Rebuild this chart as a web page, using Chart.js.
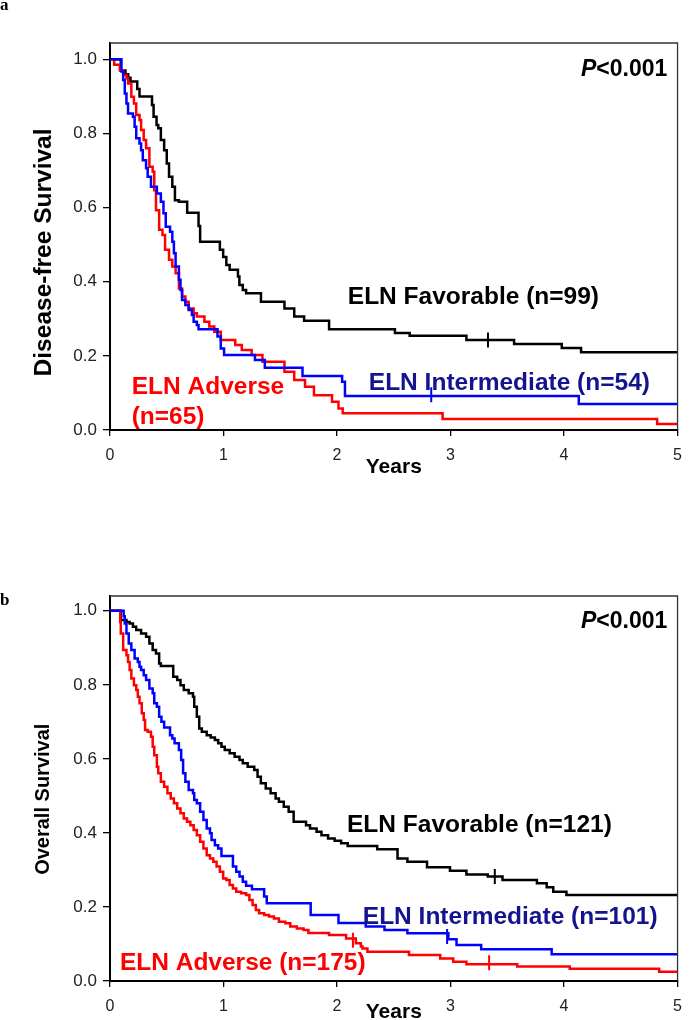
<!DOCTYPE html>
<html lang="en">
<head>
    <meta charset="UTF-8">
    <title>ELN risk groups - survival</title>
    <!-- Chart.js -->
    <script src="https://cdn.jsdelivr.net/npm/chart.js@4.4.0/dist/chart.umd.min.js"></script>
    <style>
        html, body {
            margin: 0;
            padding: 0;
            background: #fff;
            overflow: hidden;
        }
        body {
            position: relative;
            width: 692px;
            height: 1020px;
        }
        canvas {
            position: absolute;
            left: 0;
        }
        #dfsChart { top: 0; }
        #osChart { top: 490px; }
    </style>
</head>
<body>
    <canvas id="dfsChart" width="692" height="490"></canvas>
    <canvas id="osChart" width="692" height="540"></canvas>

    <script>
        // ---- axis ticks ----
        const xTicks = [0, 1, 2, 3, 4, 5];
        const yTicks = [0, 0.2, 0.4, 0.6, 0.8, 1.0];

        // ---- panel a: disease-free survival (years, survival) ----
        const dfsFavT = [0, 0.095, 0.136, 0.16, 0.18, 0.24, 0.26, 0.37, 0.384, 0.41, 0.425, 0.448, 0.477, 0.5, 0.52, 0.549, 0.572, 0.607, 0.68, 0.78, 0.794, 0.968, 0.997, 1.025, 1.054, 1.127, 1.14, 1.17, 1.199, 1.33, 1.537, 1.623, 1.71, 1.93, 2.51, 2.64, 3.14, 3.56, 3.98, 4.15, 5];
        const dfsFavS = [1, 0.97, 0.96, 0.95, 0.94, 0.92, 0.90, 0.877, 0.845, 0.823, 0.814, 0.782, 0.755, 0.719, 0.683, 0.656, 0.62, 0.616, 0.586, 0.55, 0.508, 0.486, 0.467, 0.445, 0.432, 0.414, 0.391, 0.378, 0.369, 0.346, 0.328, 0.306, 0.295, 0.272, 0.262, 0.254, 0.243, 0.232, 0.221, 0.21, 0.21];

        const dfsIntT = [0, 0.101, 0.116, 0.13, 0.145, 0.159, 0.202, 0.217, 0.231, 0.26, 0.274, 0.289, 0.318, 0.332, 0.361, 0.413, 0.448, 0.471, 0.491, 0.529, 0.549, 0.563, 0.578, 0.607, 0.621, 0.635, 0.664, 0.693, 0.722, 0.737, 0.765, 0.78, 0.947, 0.976, 1.005, 1.277, 1.364, 1.696, 2.045, 2.07, 4.13, 5];
        const dfsIntS = [1, 0.967, 0.944, 0.908, 0.881, 0.854, 0.845, 0.818, 0.787, 0.773, 0.755, 0.728, 0.706, 0.683, 0.656, 0.638, 0.616, 0.585, 0.548, 0.535, 0.508, 0.477, 0.441, 0.405, 0.378, 0.351, 0.337, 0.324, 0.31, 0.292, 0.283, 0.272, 0.252, 0.22, 0.202, 0.189, 0.168, 0.146, 0.13, 0.092, 0.07, 0.07];

        const dfsAdvT = [0, 0.037, 0.087, 0.116, 0.145, 0.159, 0.188, 0.211, 0.231, 0.26, 0.274, 0.297, 0.318, 0.347, 0.376, 0.39, 0.405, 0.433, 0.462, 0.485, 0.52, 0.549, 0.578, 0.607, 0.635, 0.664, 0.693, 0.737, 0.765, 0.832, 0.875, 0.919, 0.976, 1.103, 1.161, 1.248, 1.343, 1.537, 1.623, 1.718, 1.797, 1.956, 2.013, 2.05, 2.93, 4.82, 5];
        const dfsAdvS = [1, 0.985, 0.97, 0.958, 0.949, 0.935, 0.899, 0.881, 0.85, 0.836, 0.809, 0.782, 0.76, 0.71, 0.697, 0.647, 0.593, 0.54, 0.526, 0.486, 0.459, 0.441, 0.423, 0.382, 0.36, 0.346, 0.328, 0.315, 0.306, 0.292, 0.279, 0.265, 0.243, 0.229, 0.216, 0.202, 0.184, 0.157, 0.135, 0.117, 0.094, 0.076, 0.058, 0.045, 0.03, 0.016, 0.016];

        // censored observations
        const dfsFavCensT = [3.33];
        const dfsFavCensS = [0.243];
        const dfsIntCensT = [2.83];
        const dfsIntCensS = [0.095];

        // ---- panel b: overall survival (years, survival) ----
        const osFavT = [0, 0.095, 0.145, 0.173, 0.202, 0.231, 0.274, 0.318, 0.347, 0.376, 0.405, 0.433, 0.448, 0.557, 0.592, 0.621, 0.65, 0.693, 0.731, 0.742, 0.765, 0.786, 0.809, 0.852, 0.887, 0.924, 0.953, 0.982, 1.011, 1.054, 1.098, 1.141, 1.17, 1.213, 1.271, 1.3, 1.329, 1.372, 1.415, 1.459, 1.488, 1.531, 1.574, 1.618, 1.727, 1.762, 1.82, 1.863, 1.921, 1.979, 2.036, 2.094, 2.354, 2.533, 2.62, 2.793, 2.995, 3.14, 3.328, 3.458, 3.761, 3.847, 3.905, 4.021, 5];
        const osFavS = [1, 0.975, 0.97, 0.966, 0.957, 0.948, 0.939, 0.93, 0.912, 0.894, 0.885, 0.858, 0.851, 0.822, 0.813, 0.799, 0.786, 0.777, 0.768, 0.741, 0.714, 0.682, 0.673, 0.664, 0.658, 0.651, 0.642, 0.633, 0.624, 0.615, 0.606, 0.597, 0.588, 0.579, 0.57, 0.552, 0.534, 0.52, 0.507, 0.493, 0.484, 0.471, 0.457, 0.43, 0.421, 0.412, 0.403, 0.394, 0.385, 0.379, 0.372, 0.365, 0.356, 0.331, 0.322, 0.307, 0.298, 0.288, 0.282, 0.273, 0.264, 0.253, 0.241, 0.232, 0.232];

        const osIntT = [0, 0.12, 0.13, 0.145, 0.165, 0.188, 0.217, 0.245, 0.26, 0.274, 0.297, 0.318, 0.347, 0.376, 0.39, 0.413, 0.433, 0.453, 0.477, 0.529, 0.549, 0.569, 0.607, 0.627, 0.644, 0.664, 0.693, 0.731, 0.742, 0.765, 0.794, 0.823, 0.852, 0.881, 0.895, 0.924, 0.953, 0.982, 1.083, 1.112, 1.141, 1.17, 1.199, 1.251, 1.358, 1.381, 1.768, 2.013, 2.253, 2.418, 2.62, 2.981, 3.053, 3.27, 3.891, 5];
        const osIntS = [1, 0.985, 0.966, 0.939, 0.912, 0.894, 0.871, 0.862, 0.849, 0.84, 0.826, 0.813, 0.79, 0.777, 0.75, 0.741, 0.714, 0.7, 0.685, 0.664, 0.655, 0.642, 0.624, 0.597, 0.561, 0.538, 0.516, 0.507, 0.489, 0.48, 0.457, 0.435, 0.412, 0.399, 0.381, 0.367, 0.358, 0.338, 0.309, 0.295, 0.282, 0.268, 0.257, 0.248, 0.228, 0.21, 0.178, 0.157, 0.147, 0.138, 0.129, 0.113, 0.097, 0.086, 0.072, 0.072];

        const osAdvT = [0, 0.09, 0.095, 0.116, 0.145, 0.159, 0.173, 0.188, 0.211, 0.231, 0.245, 0.26, 0.28, 0.297, 0.309, 0.332, 0.361, 0.376, 0.39, 0.413, 0.425, 0.448, 0.477, 0.506, 0.535, 0.563, 0.592, 0.621, 0.65, 0.679, 0.708, 0.737, 0.765, 0.794, 0.823, 0.852, 0.881, 0.91, 0.939, 0.968, 0.997, 1.025, 1.054, 1.083, 1.112, 1.155, 1.199, 1.228, 1.256, 1.285, 1.314, 1.358, 1.401, 1.444, 1.488, 1.545, 1.588, 1.646, 1.705, 1.748, 1.93, 2.08, 2.166, 2.21, 2.224, 2.268, 2.634, 2.909, 3.024, 3.14, 3.588, 4.05, 4.838, 5];
        const osAdvS = [1, 0.97, 0.939, 0.894, 0.88, 0.862, 0.84, 0.817, 0.799, 0.786, 0.768, 0.75, 0.723, 0.705, 0.678, 0.673, 0.66, 0.633, 0.61, 0.579, 0.561, 0.538, 0.525, 0.507, 0.493, 0.48, 0.466, 0.453, 0.439, 0.43, 0.421, 0.408, 0.394, 0.376, 0.358, 0.34, 0.331, 0.322, 0.309, 0.295, 0.277, 0.273, 0.259, 0.25, 0.241, 0.237, 0.232, 0.219, 0.205, 0.192, 0.183, 0.178, 0.174, 0.169, 0.16, 0.156, 0.147, 0.142, 0.138, 0.13, 0.124, 0.115, 0.102, 0.093, 0.088, 0.079, 0.07, 0.061, 0.052, 0.045, 0.039, 0.033, 0.025, 0.025];

        const osFavCensT = [3.39];
        const osFavCensS = [0.282];
        const osIntCensT = [2.97];
        const osIntCensS = [0.12];
        const osAdvCensT = [2.14, 3.34];
        const osAdvCensS = [0.11, 0.049];

        const BLACK = '#000000';
        const BLUE = '#0000ff';
        const RED = '#ff0000';
        const NAVY = '#14148f';
        const FONT = '"Liberation Sans", Arial, Helvetica, sans-serif';

        Chart.defaults.font.family = FONT;

        const toXY = (ts, ss) => ts.map((t, i) => ({ x: t, y: ss[i] }));

        // step curve (Kaplan-Meier style)
        function curve(ts, ss, color) {
            return {
                data: toXY(ts, ss),
                borderColor: color,
                borderWidth: 2.5,
                stepped: true,
                pointRadius: 0,
                fill: false
            };
        }

        // censor ticks: short vertical lines
        function censor(ts, ss, color) {
            return {
                data: toXY(ts, ss),
                showLine: false,
                pointStyle: 'line',
                rotation: 90,
                pointRadius: 7.5,
                borderColor: color,
                borderWidth: 2
            };
        }

        function axes(yMax, xHeight, titlePad) {
            return {
                x: {
                    type: 'linear',
                    min: 0,
                    max: 5,
                    afterBuildTicks: s => { s.ticks = xTicks.map(v => ({ value: v })); },
                    ticks: { padding: 10, color: '#222', font: { size: 16 } },
                    grid: { drawOnChartArea: false, drawTicks: true, tickLength: 6, color: '#000', lineWidth: 1.3 },
                    border: { display: true, color: '#000', width: 2 },
                    title: {
                        display: true,
                        text: 'Years',
                        color: '#000',
                        font: { size: 21, weight: 'bold' },
                        padding: { top: 0, bottom: titlePad }
                    },
                    afterFit: s => { s.height = xHeight; }
                },
                y: {
                    type: 'linear',
                    min: 0,
                    max: yMax,
                    afterBuildTicks: s => { s.ticks = yTicks.map(v => ({ value: v })); },
                    ticks: { padding: 6, color: '#222', font: { size: 17 }, callback: v => v.toFixed(1) },
                    grid: { drawOnChartArea: false, drawTicks: true, tickLength: 7, color: '#000', lineWidth: 1.3 },
                    border: { display: true, color: '#000', width: 2 },
                    afterFit: s => { s.width = 110; }
                }
            };
        }

        // box top/right, group labels, P value, rotated y title, panel letter
        function notes(cfg) {
            return {
                id: 'notes',
                afterDatasetsDraw(chart) {
                    const { ctx, chartArea: a, scales: { x, y } } = chart;
                    ctx.save();
                    ctx.strokeStyle = '#333';
                    ctx.lineWidth = 1.3;
                    ctx.beginPath();
                    ctx.moveTo(a.left, a.top);
                    ctx.lineTo(a.right, a.top);
                    ctx.lineTo(a.right, a.bottom);
                    ctx.stroke();

                    ctx.textBaseline = 'middle';
                    ctx.textAlign = 'left';
                    cfg.labels.forEach(l => {
                        ctx.font = 'bold 24.5px ' + FONT;
                        ctx.fillStyle = l.color;
                        ctx.fillText(l.text, x.getPixelForValue(l.at[0]), y.getPixelForValue(l.at[1]));
                    });

                    // P<0.001 with italic P, right aligned
                    const pFont = 'italic bold 23px ' + FONT;
                    const rFont = 'bold 23px ' + FONT;
                    ctx.font = rFont;
                    const wRest = ctx.measureText('<0.001').width;
                    ctx.font = pFont;
                    const wP = ctx.measureText('P').width;
                    const px = x.getPixelForValue(cfg.pAt[0]);
                    const py = y.getPixelForValue(cfg.pAt[1]);
                    ctx.fillStyle = '#000';
                    ctx.fillText('P', px - wRest - wP, py);
                    ctx.font = rFont;
                    ctx.fillText('<0.001', px - wRest, py);

                    // panel letter
                    ctx.font = 'bold 17px "Liberation Serif", "Times New Roman", serif';
                    ctx.textBaseline = 'alphabetic';
                    ctx.fillText(cfg.letter, 0, cfg.letterY);

                    // y axis title
                    ctx.translate(cfg.yTitle.x, y.getPixelForValue(cfg.yTitle.at));
                    ctx.rotate(-Math.PI / 2);
                    ctx.textAlign = 'center';
                    ctx.textBaseline = 'middle';
                    ctx.font = 'bold ' + cfg.yTitle.size + 'px ' + FONT;
                    ctx.fillText(cfg.yTitle.text, 0, 0);
                    ctx.restore();
                }
            };
        }

        function makeChart(id, datasets, yMax, pad, xHeight, titlePad, cfg) {
            return new Chart(document.getElementById(id), {
                type: 'line',
                data: { datasets: datasets },
                options: {
                    responsive: false,
                    animation: false,
                    layout: { padding: pad },
                    plugins: { legend: { display: false }, tooltip: { enabled: false } },
                    scales: axes(yMax, xHeight, titlePad)
                },
                plugins: [notes(cfg)]
            });
        }

        // Panel a
        makeChart('dfsChart', [
            censor(dfsFavCensT, dfsFavCensS, BLACK),
            censor(dfsIntCensT, dfsIntCensS, BLUE),
            curve(dfsIntT, dfsIntS, BLUE),
            curve(dfsAdvT, dfsAdvS, RED),
            curve(dfsFavT, dfsFavS, BLACK)
        ], 1.044, { top: 43, right: 5, left: 0, bottom: 0 }, 60, 10, {
            labels: [
                { text: 'ELN Favorable (n=99)', at: [2.095, 0.359], color: BLACK },
                { text: 'ELN Intermediate (n=54)', at: [2.28, 0.127], color: NAVY },
                { text: 'ELN Adverse', at: [0.191, 0.116], color: RED },
                { text: '(n=65)', at: [0.191, 0.035], color: RED }
            ],
            pAt: [4.91, 0.973],
            letter: 'a',
            letterY: 10,
            yTitle: { text: 'Disease-free Survival', x: 44, at: 0.479, size: 24.5 }
        });

        // Panel b
        makeChart('osChart', [
            censor(osFavCensT, osFavCensS, BLACK),
            censor(osIntCensT, osIntCensS, BLUE),
            censor(osAdvCensT, osAdvCensS, RED),
            curve(osIntT, osIntS, BLUE),
            curve(osAdvT, osAdvS, RED),
            curve(osFavT, osFavS, BLACK)
        ], 1.04, { top: 106, right: 5, left: 0, bottom: 0 }, 49, 5, {
            labels: [
                { text: 'ELN Favorable (n=121)', at: [2.088, 0.421], color: BLACK },
                { text: 'ELN Intermediate (n=101)', at: [2.227, 0.173], color: NAVY },
                { text: 'ELN Adverse (n=175)', at: [0.087, 0.049], color: RED }
            ],
            pAt: [4.91, 0.97],
            letter: 'b',
            letterY: 115,
            yTitle: { text: 'Overall Survival', x: 43, at: 0.491, size: 20 }
        });
    </script>
</body>
</html>
